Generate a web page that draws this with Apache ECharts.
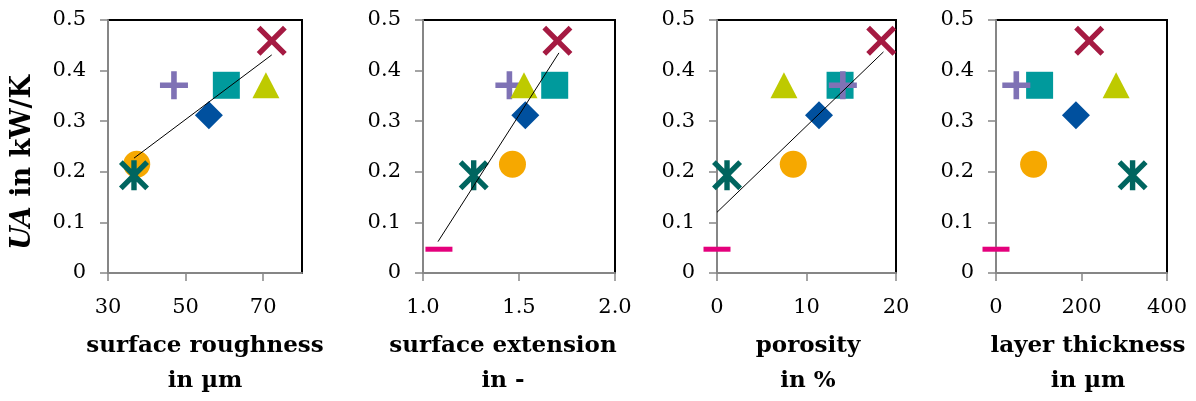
<!DOCTYPE html>
<html>
<head>
<meta charset="utf-8">
<script src="https://cdn.jsdelivr.net/npm/echarts@6/dist/echarts.min.js"></script>
<style>
html,body{margin:0;padding:0;background:#fff;}
#chart{width:1196px;height:401px;}
</style>
</head>
<body>
<div id="chart"></div>
<script>
// ---- data ----
const markerNames = ['square', 'plus', 'triangle', 'diamond', 'circle', 'asterisk', 'cross', 'dash'];
const uaValues = [0.371, 0.371, 0.371, 0.312, 0.215, 0.193, 0.459, 0.047];
const surfaceRoughness = [60.5, 47, 70.7, 56, 37.4, 36.7, 72.2, null];
const surfaceExtension = [1.686, 1.45, 1.526, 1.533, 1.466, 1.264, 1.70, 1.083];
const porosity = [13.75, 14.06, 7.48, 11.4, 8.52, 1.12, 18.35, 0];
const layerThickness = [102, 47.5, 281, 187, 88, 319.5, 218, 0];
const trendRoughness = [[36.7, 0.227], [72.2, 0.431]];
const trendExtension = [[1.078, 0.062], [1.708, 0.435]];
const trendPorosity = [[0, 0.12], [18.6, 0.437]];
const xTitles = ['surface roughness\nin µm', 'surface extension\nin -', 'porosity\nin %', 'layer thickness\nin µm'];
const yTitle = 'UA';
const yTitleRest = ' in kW/K';

// ---- styles ----
const FONT = 'DejaVu Serif';
const colors = ['#009A9C', '#7F72B5', '#BECA00', '#00509E', '#F6A800', '#00655F', '#A51A42', '#E4007C'];
const a = 1.25;
const crossPath = 'path://M' + a + ',0L5,' + (5 - a) + 'L' + (10 - a) + ',0L10,' + a + 'L' + (5 + a) + ',5L10,' + (10 - a) +
  'L' + (10 - a) + ',10L5,' + (5 + a) + 'L' + a + ',10L0,' + (10 - a) + 'L' + (5 - a) + ',5L0,' + a + 'Z';
const asteriskPath = crossPath + 'M4.1,0H5.9V10H4.1Z';
const symbols = ['rect', 'path://M4,0H6V4H10V6H6V10H4V6H0V4H4Z', 'triangle', 'diamond', 'circle', asteriskPath, crossPath, 'rect'];
const sizes = [27, 28, [27, 26], 28, 27, 30, 30, [27, 5]];

const grids = [
  {left: 108, top: 20, width: 194, height: 253},
  {left: 423, top: 20, width: 192, height: 253},
  {left: 717, top: 20, width: 179, height: 253},
  {left: 996, top: 20, width: 171, height: 253}
];
const xSpecs = [
  {min: 30, max: 80, interval: 20, data: surfaceRoughness, trend: trendRoughness, fmt: v => String(v)},
  {min: 1, max: 2, interval: 0.5, data: surfaceExtension, trend: trendExtension, fmt: v => v.toFixed(1)},
  {min: 0, max: 20, interval: 10, data: porosity, trend: trendPorosity, fmt: v => String(v)},
  {min: 0, max: 400, interval: 200, data: layerThickness, trend: null, fmt: v => String(v)}
];
const titleCenters = [200, 498, 803, 1083];

const gray = '#868686';
const grid = grids.map(g => Object.assign({show: true, borderColor: '#000', borderWidth: 2, backgroundColor: '#fff'}, g));
const xAxis = xSpecs.map((s, i) => ({
  type: 'value', gridIndex: i, min: s.min, max: s.max, interval: s.interval,
  axisLine: {show: true, lineStyle: {color: gray, width: 2}},
  axisTick: {show: true, length: 8, lineStyle: {color: gray, width: 1.5}},
  splitLine: {show: false},
  axisLabel: {show: true, margin: 24, fontFamily: FONT, fontSize: 21, color: '#000', showMaxLabel: i !== 0, formatter: s.fmt}
}));
const yAxis = grids.map((g, i) => ({
  type: 'value', gridIndex: i, min: 0, max: 0.5, interval: 0.1,
  axisLine: {show: true, lineStyle: {color: gray, width: 2}},
  axisTick: {show: true, length: 8, lineStyle: {color: gray, width: 1.5}},
  splitLine: {show: false},
  axisLabel: {margin: 22, fontFamily: FONT, fontSize: 21, color: '#000'},
  name: i === 0 ? '{i|' + yTitle + '}' + yTitleRest : '',
  nameLocation: 'middle', nameRotate: 90, nameGap: 72,
  nameTextStyle: {fontFamily: FONT, fontWeight: 'bold', fontSize: 27, color: '#000', padding: [0, 32, 0, 0],
    rich: {i: {fontFamily: FONT, fontWeight: 'bold', fontStyle: 'italic', fontSize: 27, color: '#000'}}}
}));

const series = [];
xSpecs.forEach((s, p) => {
  markerNames.forEach((m, k) => {
    if (s.data[k] === null) return;
    series.push({
      type: 'scatter', name: m, xAxisIndex: p, yAxisIndex: p, clip: false,
      symbol: symbols[k], symbolSize: sizes[k],
      itemStyle: {color: colors[k], opacity: 1},
      data: [[s.data[k], uaValues[k]]], z: 3
    });
  });
  if (s.trend) {
    series.push({
      type: 'line', xAxisIndex: p, yAxisIndex: p, data: s.trend, showSymbol: false, symbol: 'none',
      lineStyle: {color: '#000', width: 1}, z: 5, silent: true
    });
  }
});

const title = xTitles.map((t, i) => ({
  text: t, left: titleCenters[i], top: 324, textAlign: 'center',
  textStyle: {fontFamily: FONT, fontWeight: 'bold', fontSize: 23, lineHeight: 35, color: '#000'}
}));

const chart = echarts.init(document.getElementById('chart'));
chart.setOption({animation: false, title, grid, xAxis, yAxis, series});
</script>
</body>
</html>
